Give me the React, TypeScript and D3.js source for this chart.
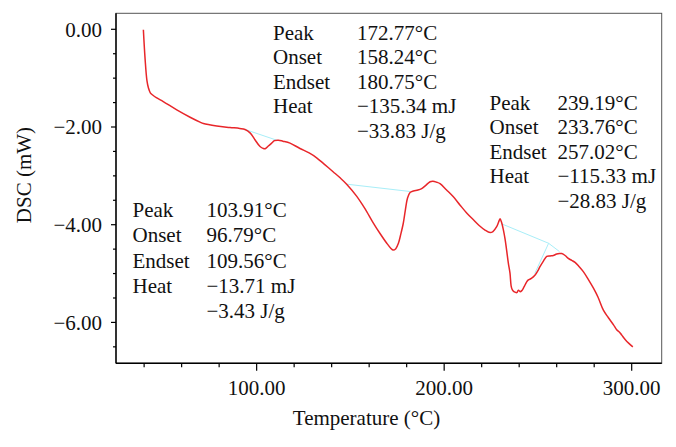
import React from "react";
import * as d3 from "d3";

// ---- data ----
const temperature = [
  39.6, 40.5, 41.5, 42.3, 43.3, 44.7, 46.5, 50.2, 57.4, 64.5, 69.8, 71.6, 78.7, 85.8, 91.0, 93.8,
  96.5, 99.1, 101.8, 103.6, 104.8, 106.2, 108.0, 109.5, 111.6, 114.0, 117.8, 123.1, 128.0, 132.0,
  136.0, 140.9, 144.5, 148.0, 153.4, 156.9, 158.7, 162.0, 165.8, 169.4, 171.5, 172.8, 174.2, 175.6, 176.7,
  178.2, 179.3, 180.5, 181.8, 183.6, 186.0, 188.0, 190.0, 192.5, 194.0, 196.0, 197.8, 201.3, 204.9,
  208.5, 212.0, 215.6, 218.5, 221.8, 224.5, 226.0, 228.0, 229.0, 229.8, 230.6, 231.6, 232.5, 233.3,
  234.2, 235.1, 235.7, 236.3, 237.2, 237.8, 238.7, 239.6, 240.5, 241.4, 242.5, 244.0, 244.9, 246.5,
  248.5, 250.0, 251.1, 253.0, 254.7, 256.5, 258.2, 260.0, 261.5, 262.7, 264.5, 266.2, 268.0, 269.8,
  272.0, 274.2, 277.0, 279.6, 282.0, 284.9, 287.5, 290.3, 292.0, 293.5, 294.7, 296.5, 298.5, 300.6,
];
const dsc = [
  -0.01, -0.6, -1.05, -1.2, -1.3, -1.35, -1.4, -1.48, -1.65, -1.8, -1.9, -1.93, -1.98, -2.01, -2.03, -2.05,
  -2.12, -2.26, -2.4, -2.44, -2.44, -2.39, -2.33, -2.28, -2.27, -2.29, -2.33, -2.44, -2.53, -2.63,
  -2.76, -2.92, -3.04, -3.17, -3.42, -3.62, -3.73, -3.95, -4.18, -4.38, -4.48, -4.52, -4.49, -4.38, -4.22,
  -3.97, -3.7, -3.45, -3.34, -3.31, -3.29, -3.26, -3.2, -3.12, -3.11, -3.13, -3.16, -3.29, -3.43,
  -3.6, -3.76, -3.9, -4.01, -4.11, -4.16, -4.14, -4.04, -3.95, -3.88, -3.95, -4.11, -4.3, -4.52,
  -4.78, -4.99, -5.25, -5.33, -5.37, -5.38, -5.39, -5.34, -5.37, -5.35, -5.28, -5.17, -5.13, -5.1,
  -5.03, -4.94, -4.86, -4.74, -4.65, -4.64, -4.63, -4.6, -4.59, -4.59, -4.63, -4.69, -4.73, -4.77,
  -4.86, -4.96, -5.13, -5.3, -5.48, -5.75, -5.9, -6.05, -6.15, -6.2, -6.26, -6.35, -6.43, -6.5,
];

// baseline (integration) segments, each a polyline [T, v]
const baselines: [number, number][][] = [
  [[93.8, -2.05], [110.7, -2.27]],
  [[148.0, -3.17], [181.8, -3.32]],
  [[230.5, -3.98], [255.7, -4.38], [261.5, -4.55]],
  [[255.7, -4.38], [248.3, -5.0]],
];

const xMajorTicks = [100, 200, 300];
const xMajorLabels = ["100.00", "200.00", "300.00"];
const xMinorTicks = [40, 60, 80, 120, 140, 160, 180, 220, 240, 260, 280];
const yMajorTicks = [0, -2, -4, -6];
const yMajorLabels = ["0.00", "\u22122.00", "\u22124.00", "\u22126.00"];
const yMinorTicks = [-0.5, -1, -1.5, -2.5, -3, -3.5, -4.5, -5, -5.5, -6.5];

const annotLabels = ["Peak", "Onset", "Endset", "Heat", ""];
const annot1 = ["172.77°C", "158.24°C", "180.75°C", "\u2212135.34 mJ", "\u221233.83 J/g"];
const annot2 = ["239.19°C", "233.76°C", "257.02°C", "\u2212115.33 mJ", "\u221228.83 J/g"];
const annot3 = ["103.91°C", "96.79°C", "109.56°C", "\u221213.71 mJ", "\u22123.43 J/g"];

const xTitle = "Temperature (°C)";
const yTitle = "DSC (mW)";

// ---- layout ----
const W = 676;
const H = 447;
const left = 116;
const right = 661.7;
const top = 13.3;
const bottom = 363.3;
const FONT = "'Liberation Serif', 'Times New Roman', serif";
const FS = 21;

export default function App() {
  const x = d3.scaleLinear().domain([25, 316]).range([left, right]);
  const y = d3.scaleLinear().domain([-6.837, 0.3275]).range([bottom, top]);
  const pts = temperature.map((t, i) => [t, dsc[i]] as [number, number]);
  const line = d3
    .line<[number, number]>()
    .x((d) => x(d[0]))
    .y((d) => y(d[1]))
    .curve(d3.curveCatmullRom.alpha(0.5));

  const blocks = [
    { lx: 273, vx: 357, y0: 39.5, dy: 24.6, vals: annot1 },
    { lx: 489.5, vx: 557.5, y0: 110, dy: 24.4, vals: annot2 },
    { lx: 132.5, vx: 206.5, y0: 217, dy: 25.3, vals: annot3 },
  ];

  return (
    <svg
      width={W}
      height={H}
      style={{ position: "absolute", left: 0, top: 0, background: "#fff" }}
      fontFamily={FONT}
    >
      <rect x={0} y={0} width={W} height={H} fill="#fff" />
      {/* frame */}
      <rect x={left} y={top} width={right - left} height={bottom - top} fill="none" stroke="#555" strokeWidth={1} />
      <line x1={left} x2={left} y1={top} y2={bottom} stroke="#000" strokeWidth={1.4} />
      <line x1={left} x2={right} y1={bottom} y2={bottom} stroke="#000" strokeWidth={1.6} />

      {/* baselines */}
      {baselines.map((b, i) => (
        <path
          key={"b" + i}
          d={d3.line<[number, number]>().x((d) => x(d[0])).y((d) => y(d[1]))(b) || ""}
          fill="none"
          stroke="#a8eef8"
          strokeWidth={1}
        />
      ))}

      {/* curve */}
      <path d={line(pts) || ""} fill="none" stroke="#e8262a" strokeWidth={1.5} strokeLinejoin="round" />

      {/* y ticks */}
      {yMajorTicks.map((v, i) => (
        <g key={"ym" + i}>
          <line x1={left - 5} x2={left} y1={y(v)} y2={y(v)} stroke="#000" strokeWidth={1.2} />
          <text x={102} y={y(v)} dy="0.35em" textAnchor="end" fontSize={FS} fill="#111">
            {yMajorLabels[i]}
          </text>
        </g>
      ))}
      {yMinorTicks.map((v, i) => (
        <line key={"yn" + i} x1={left - 3} x2={left} y1={y(v)} y2={y(v)} stroke="#000" strokeWidth={1.2} />
      ))}

      {/* x ticks */}
      {xMajorTicks.map((t, i) => (
        <g key={"xm" + i}>
          <line x1={x(t)} x2={x(t)} y1={bottom} y2={bottom + 7.5} stroke="#000" strokeWidth={1.2} />
          <text x={x(t)} y={395} textAnchor="middle" fontSize={FS} fill="#111">
            {xMajorLabels[i]}
          </text>
        </g>
      ))}
      {xMinorTicks.map((t, i) => (
        <line key={"xn" + i} x1={x(t)} x2={x(t)} y1={bottom} y2={bottom + 4} stroke="#000" strokeWidth={1.2} />
      ))}

      {/* axis titles */}
      <text x={366.5} y={425} textAnchor="middle" fontSize={FS} fill="#111">
        {xTitle}
      </text>
      <text
        transform={`translate(31, 175) rotate(-90)`}
        textAnchor="middle"
        fontSize={FS}
        fill="#111"
      >
        {yTitle}
      </text>

      {/* annotations */}
      {blocks.map((b, bi) => (
        <g key={"a" + bi} fontSize={FS} fill="#111">
          {annotLabels.map((l, i) => (
            <text key={"l" + i} x={b.lx} y={b.y0 + i * b.dy}>
              {l}
            </text>
          ))}
          {b.vals.map((v, i) => (
            <text key={"v" + i} x={b.vx} y={b.y0 + i * b.dy}>
              {v}
            </text>
          ))}
        </g>
      ))}
    </svg>
  );
}
